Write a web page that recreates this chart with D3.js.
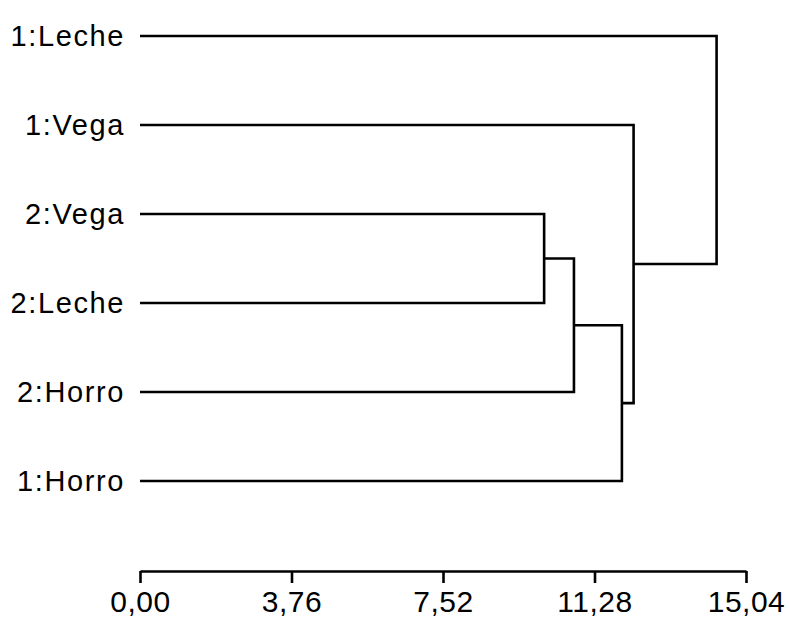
<!DOCTYPE html>
<html>
<head>
<meta charset="utf-8">
<script src="https://cdn.jsdelivr.net/npm/d3@7"></script>
<style>
  body { margin: 0; background: #fff; }
  text { font-family: "Liberation Sans", Arial, sans-serif; fill: #000; }
</style>
</head>
<body>
<script>
// leaf labels, top to bottom
var leaves = ["1:Leche", "1:Vega", "2:Vega", "2:Leche", "2:Horro", "1:Horro"];
// merges: node ids (0-5 leaves, 6+ earlier merges) and join distance
var mergeLeft = [2, 6, 7, 1, 0];
var mergeRight = [3, 4, 5, 8, 9];
var mergeHeight = [10.03, 10.77, 11.96, 12.25, 14.31];
var tickValues = [0, 3.76, 7.52, 11.28, 15.04];

var width = 791;
var height = 620;

var svg = d3.select("body")
  .append("svg")
  .attr("width", width)
  .attr("height", height);

var x = d3.scaleLinear().domain([0, 15.04]).range([140, 746]);
var y = d3.scalePoint().domain(leaves).range([36, 481]);

// node positions
var nodeX = [];
var nodeY = [];
leaves.forEach(function (d, i) {
  nodeX[i] = x(0);
  nodeY[i] = y(d);
});
mergeHeight.forEach(function (h, k) {
  var id = leaves.length + k;
  nodeX[id] = x(h);
  nodeY[id] = (nodeY[mergeLeft[k]] + nodeY[mergeRight[k]]) / 2;
});

var links = mergeHeight.map(function (h, k) {
  return { a: mergeLeft[k], b: mergeRight[k], h: h };
});

svg.selectAll(".link")
  .data(links)
  .join("path")
  .attr("class", "link")
  .attr("d", function (d) {
    var mx = x(d.h);
    return "M" + nodeX[d.a] + "," + nodeY[d.a] +
      "H" + mx + "V" + nodeY[d.b] + "H" + nodeX[d.b];
  })
  .style("fill", "none")
  .style("stroke", "#000")
  .style("stroke-width", 2.6);

svg.selectAll(".leaf")
  .data(leaves)
  .join("text")
  .attr("class", "leaf")
  .attr("x", 125)
  .attr("y", function (d) { return y(d); })
  .attr("dy", "0.33em")
  .attr("text-anchor", "end")
  .style("font-size", "29px")
  .style("letter-spacing", "1.6px")
  .text(function (d) { return d; });

var axis = d3.axisBottom(x)
  .tickValues(tickValues)
  .tickSize(12)
  .tickSizeOuter(0)
  .tickFormat(function (d) { return d.toFixed(2).replace(".", ","); });

var g = svg.append("g")
  .attr("transform", "translate(0,571)")
  .call(axis);

g.select(".domain").style("stroke-width", 2.6);
g.selectAll(".tick line").style("stroke-width", 2.6);
g.selectAll(".tick text")
  .attr("y", 20)
  .attr("dy", "0.71em")
  .style("font-size", "30px")
  .style("letter-spacing", "0.5px")
  .style("font-family", "\"Liberation Sans\", Arial, sans-serif");
</script>
</body>
</html>
